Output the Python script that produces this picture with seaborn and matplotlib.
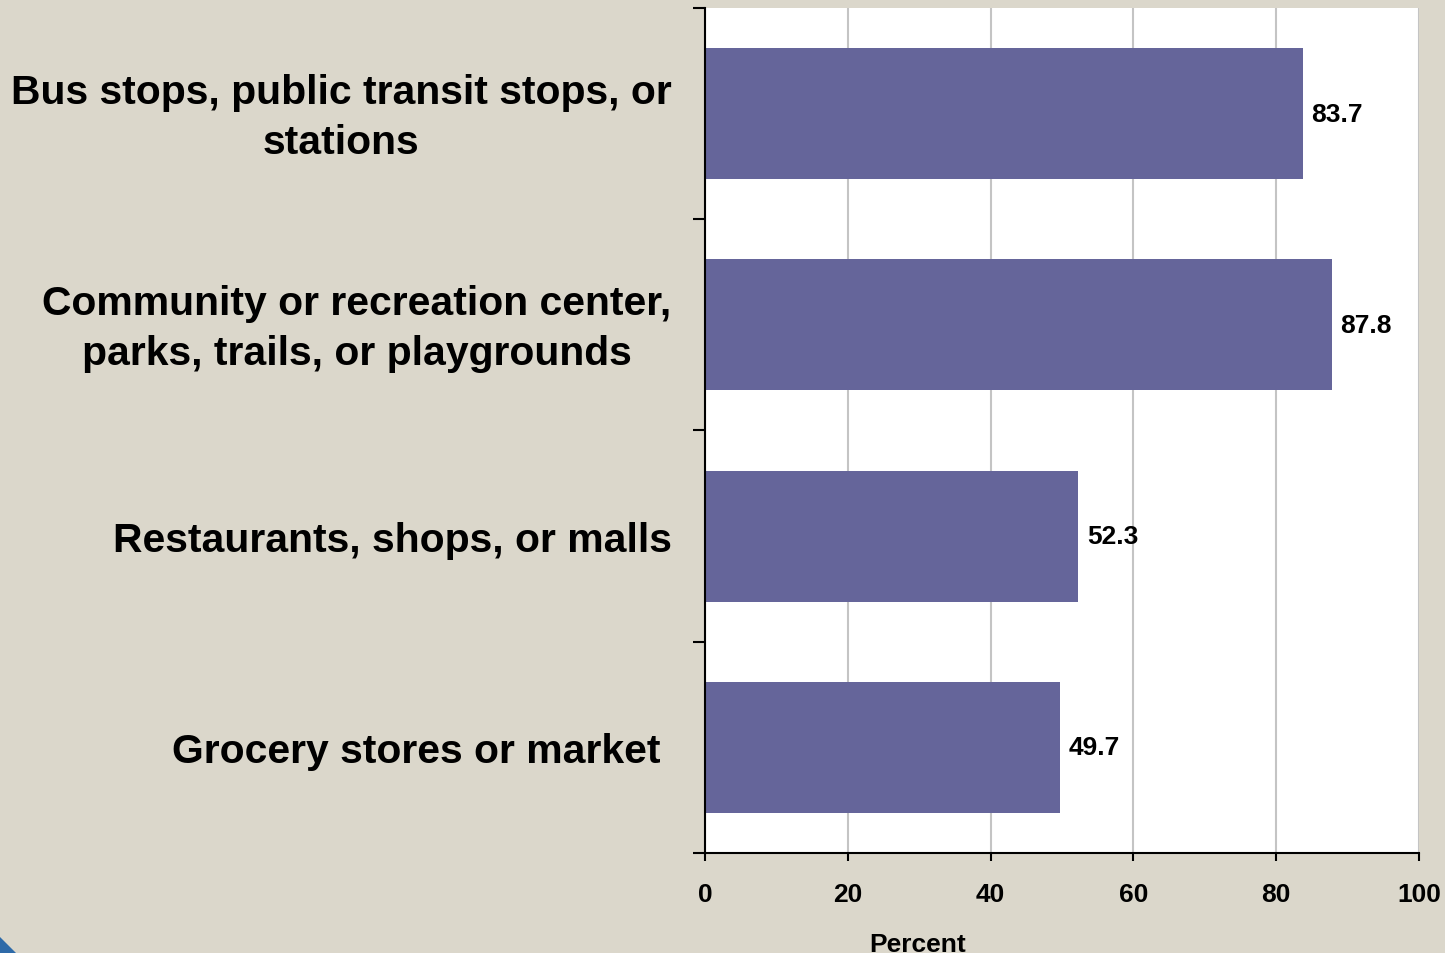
import matplotlib
matplotlib.use('Agg')
import matplotlib.pyplot as plt
import matplotlib.transforms as mtransforms
import seaborn as sns
import pandas as pd
from matplotlib.patches import Polygon

# datos del grafico
categorias = ['Bus stops, public transit stops, or\nstations',
              'Community or recreation center,\nparks, trails, or playgrounds',
              'Restaurants, shops, or malls',
              'Grocery stores or market ']
porcentajes = [83.7, 87.8, 52.3, 49.7]
ticks_x = [0, 20, 40, 60, 80, 100]

df = pd.DataFrame({'lugar': categorias, 'pct': porcentajes})

fondo = '#DBD7CB'
color_barra = '#65659A'

sns.set_style('white')
plt.rcParams['font.family'] = ['Liberation Sans', 'DejaVu Sans']
plt.rcParams['text.color'] = 'black'
plt.rcParams['axes.labelcolor'] = 'black'
plt.rcParams['xtick.color'] = 'black'
plt.rcParams['ytick.color'] = 'black'

fig = plt.figure(figsize=(14.45, 9.54), dpi=100, facecolor=fondo)
ax = fig.add_axes([0.4879, 0.1048, 0.4941, 0.8858])
ax.set_facecolor('white')

sns.barplot(data=df, x='pct', y='lugar', orient='h', color=color_barra,
            width=0.62, linewidth=0, saturation=1, ax=ax)

# rejilla vertical
ax.set_xlim(0, 100)
ax.set_xticks(ticks_x)
ax.xaxis.grid(True, color='#C4C4C4', linewidth=1.5)
ax.set_axisbelow(True)

ax.set_ylim(3.5, -0.5)
ax.set_yticks([-0.5, 0.5, 1.5, 2.5, 3.5], minor=True)

for s in ['top', 'right']:
    ax.spines[s].set_visible(False)
for s in ['left', 'bottom']:
    ax.spines[s].set_color('black')
    ax.spines[s].set_linewidth(1.5)

ax.tick_params(axis='y', which='major', length=0, pad=24, labelcolor='black')
ax.tick_params(axis='y', which='minor', length=9, width=1.5, color='black', direction='out', left=True)
ax.tick_params(axis='x', length=6, width=1.5, color='black', direction='out', pad=15,
               bottom=True, labelcolor='black')

# etiquetas de dos lineas un poco mas arriba, como en el original
subir = mtransforms.ScaledTranslation(0, 5 / 72, fig.dpi_scale_trans)
for lbl in ax.get_yticklabels():
    lbl.set_fontsize(29.4)
    lbl.set_fontweight('bold')
    lbl.set_multialignment('center')
    lbl.set_linespacing(1.4)
    if '\n' in lbl.get_text():
        lbl.set_transform(lbl.get_transform() + subir)
for lbl in ax.get_xticklabels():
    lbl.set_fontsize(19)
    lbl.set_fontweight('bold')

ax.set_ylabel('')
ax.set_xlabel('Percent', fontsize=19, fontweight='bold', color='black')
ax.xaxis.set_label_coords(0.298, -0.0935)

# valores al final de las barras
ax.bar_label(ax.containers[0], labels=[f'{v:.1f}' for v in porcentajes],
             padding=6, fontsize=19, fontweight='bold', color='black')

# trocito del logo abajo a la izquierda
fig.patches.append(Polygon([(0, 1 - 938 / 954), (0, 0), (16 / 1445, 0)],
                           closed=True, transform=fig.transFigure,
                           facecolor='#2E6AA8', edgecolor='none'))

fig.savefig('out.png', dpi=100, facecolor=fondo)
